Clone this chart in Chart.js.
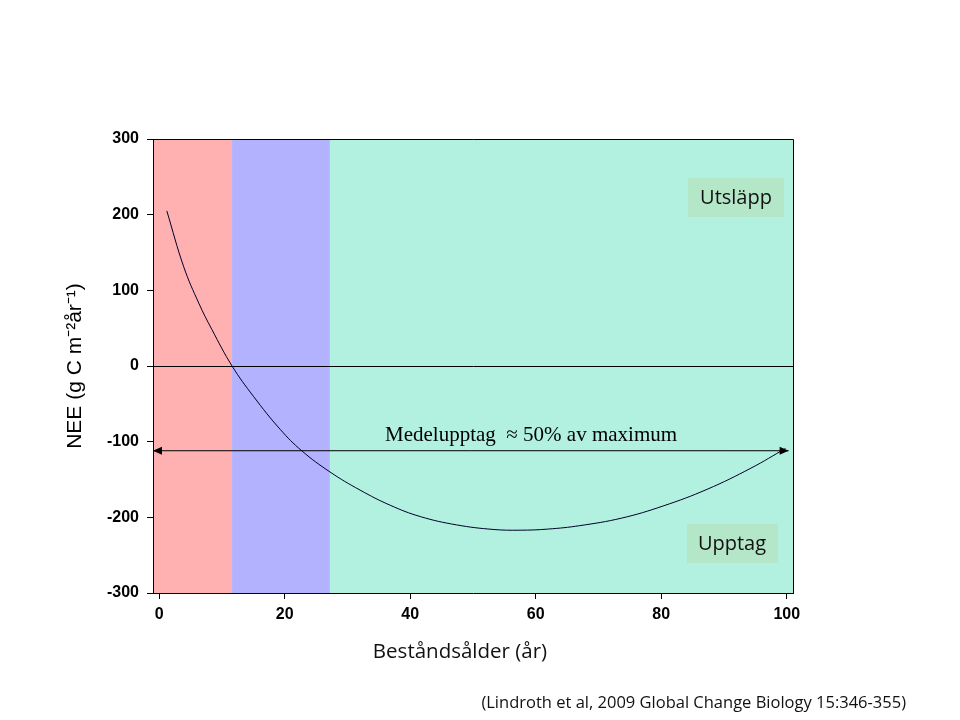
<!DOCTYPE html>
<html>
<head>
<meta charset="utf-8">
<script src="https://cdn.jsdelivr.net/npm/chart.js@4.4.0/dist/chart.umd.min.js"></script>
<style>
  html, body { margin: 0; background: #fff; }
</style>
</head>
<body>
<canvas id="neeChart" width="960" height="720"></canvas>
<script>
// stand age (years) and NEE
const ageYears = [1.2, 3.9, 6.3, 8.4, 11.6, 15, 19.3, 22.7, 27.2, 32, 36.8, 41.6, 47.4, 53.2, 57.5, 62, 67, 73.7, 80.3, 87.3, 94.3, 99.8];
const neeValues = [205, 131, 83, 48, 0, -40, -84, -112, -140, -164, -184, -199, -210, -216, -217, -215.5, -211, -201, -185, -163, -135, -109];

// background phases (age boundaries)
const bandEdges = [-1, 11.6, 27.2, 101];
const bandColors = ["#ffb0b0", "#b2b2ff", "#b2f0e0"];

// mean uptake arrow
const meanUptakeAge = [-1, 100.3];
const meanUptakeNee = [-112, -112];

const xTicks = [0, 20, 40, 60, 80, 100];
const yTicks = [-300, -200, -100, 0, 100, 200, 300];

const tickFont = { family: "'Liberation Sans', Arial, sans-serif", size: 16, weight: "bold" };

//draws the coloured bands behind the grid
const bandsPlugin = {
    id: "bands",
    beforeDraw(chart) {
        const { ctx, chartArea, scales } = chart;
        ctx.save();
        for (let i = 0; i < bandColors.length; i++) {
            const x0 = scales.x.getPixelForValue(bandEdges[i]);
            const x1 = scales.x.getPixelForValue(bandEdges[i + 1]);
            ctx.fillStyle = bandColors[i];
            ctx.fillRect(x0, chartArea.top, x1 - x0, chartArea.bottom - chartArea.top);
        }
        ctx.restore();
    }
};

// arrow heads, labels, frame and the free text
const annotationsPlugin = {
    id: "annotations",
    afterDatasetsDraw(chart) {
        const { ctx, scales } = chart;
        const yPix = scales.y.getPixelForValue(meanUptakeNee[0]);
        const xl = scales.x.getPixelForValue(meanUptakeAge[0]);
        const xr = scales.x.getPixelForValue(meanUptakeAge[1]);
        ctx.save();
        ctx.fillStyle = "#000";
        ctx.beginPath();
        ctx.moveTo(xl, yPix);
        ctx.lineTo(xl + 9, yPix - 4);
        ctx.lineTo(xl + 9, yPix + 4);
        ctx.closePath();
        ctx.fill();
        ctx.beginPath();
        ctx.moveTo(xr, yPix);
        ctx.lineTo(xr - 9, yPix - 4);
        ctx.lineTo(xr - 9, yPix + 4);
        ctx.closePath();
        ctx.fill();

        ctx.font = "21px 'Liberation Serif', 'Times New Roman', serif";
        ctx.textAlign = "left";
        ctx.textBaseline = "alphabetic";
        ctx.fillText("Medelupptag  \u2248 50% av maximum", 385, 441);

        // label boxes
        ctx.font = "20px 'Open Sans', sans-serif";
        ctx.textAlign = "center";
        ctx.textBaseline = "middle";
        ctx.fillStyle = "#b4e6c8";
        ctx.fillRect(688, 178, 96, 39);
        ctx.fillRect(687, 524, 91, 39);
        ctx.fillStyle = "#111";
        ctx.fillText("Utsläpp", 736, 198);
        ctx.fillText("Upptag", 732, 544);
        ctx.restore();
    },
    afterDraw(chart) {
        const { ctx, chartArea } = chart;
        ctx.save();
        ctx.strokeStyle = "#000";
        ctx.lineWidth = 1;
        ctx.beginPath();
        ctx.moveTo(chartArea.left, chartArea.top + 0.5);
        ctx.lineTo(chartArea.right + 0.5, chartArea.top + 0.5);
        ctx.lineTo(chartArea.right + 0.5, chartArea.bottom);
        ctx.stroke();

        ctx.fillStyle = "#111";
        ctx.textAlign = "center";
        ctx.textBaseline = "middle";
        ctx.font = "20.5px 'Open Sans', sans-serif";
        ctx.fillText("Beståndsålder (år)", 460, 652);
        ctx.font = "16.5px 'Open Sans', sans-serif";
        ctx.textAlign = "right";
        ctx.fillText("(Lindroth et al, 2009 Global Change Biology 15:346-355)", 906, 703);
        ctx.restore();
    }
};

const canvas = document.querySelector("#neeChart");

new Chart(canvas, {
    type: "line",
    data: {
        datasets: [
            {
                label: "NEE",
                data: ageYears.map((a, i) => ({ x: a, y: neeValues[i] })),
                borderColor: "#000028",
                borderWidth: 1,
                pointRadius: 0,
                tension: 0.4,
                fill: false
            },
            {
                label: "Medelupptag",
                data: meanUptakeAge.map((a, i) => ({ x: a, y: meanUptakeNee[i] })),
                borderColor: "#000",
                borderWidth: 1,
                pointRadius: 0,
                fill: false
            }
        ]
    },
    options: {
        responsive: false,
        animation: false,
        layout: { padding: { top: 139, right: 167, left: 0, bottom: 0 } },
        plugins: {
            legend: { display: false },
            tooltip: { enabled: false }
        },
        scales: {
            x: {
                type: "linear",
                min: -1,
                max: 101,
                afterBuildTicks: (scale) => { scale.ticks = xTicks.map(v => ({ value: v })); },
                afterFit: (scale) => { scale.height = 127; },
                grid: { drawOnChartArea: false, drawTicks: true, tickLength: 6, tickColor: "#000" },
                border: { display: true, color: "#000", width: 1 },
                ticks: { color: "#000", font: tickFont, padding: 6, maxRotation: 0 }
            },
            y: {
                type: "linear",
                min: -300,
                max: 300,
                afterBuildTicks: (scale) => { scale.ticks = yTicks.map(v => ({ value: v })); },
                afterFit: (scale) => { scale.width = 153; },
                grid: {
                    color: (c) => (c.tick && c.tick.value === 0 ? "#000" : "rgba(0,0,0,0)"),
                    tickColor: "#000",
                    tickLength: 6
                },
                border: { display: true, color: "#000", width: 1 },
                ticks: { color: "#000", font: tickFont, padding: 8 },
                title: {
                    display: true,
                    text: "NEE (g C m\u207B\u00B2år\u207B\u00B9)",
                    color: "#000",
                    font: { family: "'Liberation Sans', Arial, sans-serif", size: 21 },
                    padding: { top: 63, bottom: 0 }
                }
            }
        }
    },
    plugins: [bandsPlugin, annotationsPlugin]
});
</script>
</body>
</html>
